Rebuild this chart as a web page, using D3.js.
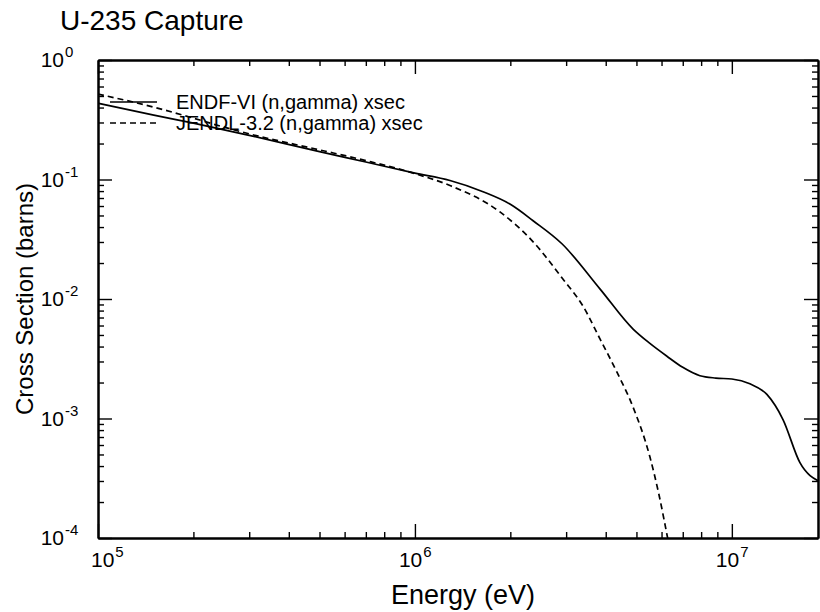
<!DOCTYPE html>
<html>
<head>
<meta charset="utf-8">
<script src="https://cdnjs.cloudflare.com/ajax/libs/d3/7.8.5/d3.min.js"></script>
<style>
  body { margin: 0; background: #fff; }
  text { font-family: "Liberation Sans", Arial, Helvetica, sans-serif; fill: #000; }
  .axis path, .axis line { stroke: #000; }
  .axis path { stroke-width: 2; }
  .axis line { stroke-width: 1.4; }
</style>
</head>
<body>
<script>
// ENDF-VI (n,gamma)
var endfEnergy = [1e5, 1.5e5, 2e5, 3e5, 5e5, 7e5, 1e6, 1.29e6, 1.64e6, 2.0e6, 2.36e6, 2.91e6,
                  3.84e6, 4.88e6, 5.5e6, 6.24e6, 7.0e6, 7.93e6, 8.9e6, 1.0e7, 1.14e7, 1.29e7, 1.45e7, 1.64e7, 1.9e7];
var endfXsec   = [0.435, 0.346, 0.296, 0.234, 0.171, 0.140, 0.113, 0.098, 0.079, 0.062, 0.0452, 0.029,
                  0.0121, 0.0056, 0.00427, 0.00332, 0.00268, 0.00228, 0.00218, 0.00214, 0.00195, 0.00159, 0.00098, 0.000427, 0.000295];

// JENDL-3.2 (n,gamma)
var jendlEnergy = [1e5, 1.5e5, 2e5, 2.5e5, 3e5, 5e5, 7e5, 1e6, 1.29e6, 1.85e6, 2.36e6, 2.93e6, 3.39e6,
                   3.84e6, 4.34e6, 4.87e6, 5.51e6, 5.89e6, 6.29e6, 6.86e6];
var jendlXsec   = [0.518, 0.403, 0.326, 0.274, 0.241, 0.177, 0.144, 0.112, 0.089, 0.0538, 0.0301, 0.0147, 0.00873,
                   0.00461, 0.00244, 0.00126, 0.00048, 0.00023, 0.0000962, 0.00003];

var seriesNames = ["ENDF-VI (n,gamma) xsec", "JENDL-3.2 (n,gamma) xsec"];
var xMajor = [5, 6, 7];
var yMajor = [0, -1, -2, -3, -4];

var plotLeft = 98, plotRight = 818, plotTop = 60, plotBottom = 538;

var svg = d3.select("body").append("svg")
    .attr("width", 820)
    .attr("height", 612);

var x = d3.scaleLog().domain([1e5, 1.87e7]).range([plotLeft, plotRight]);
var y = d3.scaleLog().domain([1e-4, 1]).range([plotBottom, plotTop]);

var xTicks = x.ticks(), yTicks = y.ticks();
function isMajor(v) { return Math.abs(Math.log10(v) - Math.round(Math.log10(v))) < 1e-9; }
var xMin = xTicks.filter(function(d){ return !isMajor(d); }),
    xMaj = xTicks.filter(isMajor),
    yMin = yTicks.filter(function(d){ return !isMajor(d); }),
    yMaj = yTicks.filter(isMajor);

//tick marks, all pointing inwards
function drawAxis(axisFn, scale, vals, len, transform) {
    svg.append("g")
        .attr("class", "axis")
        .attr("transform", transform)
        .call(axisFn(scale).tickValues(vals).tickSizeInner(-len).tickSizeOuter(0).tickFormat(""));
}
drawAxis(d3.axisBottom, x, xMin, 6, "translate(0," + plotBottom + ")");
drawAxis(d3.axisBottom, x, xMaj, 14, "translate(0," + plotBottom + ")");
drawAxis(d3.axisTop, x, xMin, 6, "translate(0," + plotTop + ")");
drawAxis(d3.axisTop, x, xMaj, 14, "translate(0," + plotTop + ")");
drawAxis(d3.axisLeft, y, yMin, 6, "translate(" + plotLeft + ",0)");
drawAxis(d3.axisLeft, y, yMaj, 14, "translate(" + plotLeft + ",0)");
drawAxis(d3.axisRight, y, yMin, 6, "translate(" + plotRight + ",0)");
drawAxis(d3.axisRight, y, yMaj, 14, "translate(" + plotRight + ",0)");

//tick labels with superscripts
var xl = svg.append("g").selectAll("text")
    .data(xMajor)
    .enter().append("text")
    .attr("x", function(d){ return Math.max(x(Math.pow(10, d)) - 16, plotLeft - 7); })
    .attr("y", plotBottom + 29)
    .style("font-size", "21px");
xl.append("tspan").text("10");
xl.append("tspan").attr("dx", 1).attr("dy", -10).style("font-size", "15px").text(function(d){ return d; });

var yl = svg.append("g").selectAll("text")
    .data(yMajor)
    .enter().append("text")
    .attr("x", 64)
    .attr("y", function(d){ return y(Math.pow(10, d)) + 7; })
    .attr("text-anchor", "end")
    .style("font-size", "21px");
yl.append("tspan").text("10");
yl.append("tspan").attr("x", 65).attr("dy", -10).attr("text-anchor", "start")
    .style("font-size", "15px").text(function(d){ return d; });

//curves
svg.append("defs").append("clipPath").attr("id", "plot")
    .append("rect").attr("x", plotLeft).attr("y", plotTop)
    .attr("width", plotRight - plotLeft).attr("height", plotBottom - plotTop);

var line = d3.line()
    .x(function(d){ return x(d[0]); })
    .y(function(d){ return y(d[1]); })
    .curve(d3.curveMonotoneX);

var endf = d3.zip(endfEnergy, endfXsec), jendl = d3.zip(jendlEnergy, jendlXsec);

var curves = svg.append("g").attr("clip-path", "url(#plot)");
curves.append("path").datum(endf).attr("d", line)
    .attr("fill", "none").attr("stroke", "#000").attr("stroke-width", 1.7);
curves.append("path").datum(jendl).attr("d", line)
    .attr("fill", "none").attr("stroke", "#000").attr("stroke-width", 1.7)
    .attr("stroke-dasharray", "6,4");

//legend
var legend = svg.append("g").selectAll("g")
    .data(seriesNames)
    .enter().append("g")
    .attr("transform", function(d, i){ return "translate(110," + (102 + i * 21) + ")"; });
legend.append("line")
    .attr("x1", 0).attr("x2", 47)
    .attr("stroke", "#000").attr("stroke-width", 1.5)
    .attr("stroke-dasharray", function(d, i){ return i ? "6,4" : null; });
legend.append("text")
    .attr("x", 66).attr("y", 7)
    .style("font-size", "20px")
    .text(function(d){ return d; });

//titles
svg.append("text").attr("x", 60).attr("y", 30).style("font-size", "28px").text("U-235 Capture");
svg.append("text").attr("x", (plotLeft + plotRight) / 2 + 5).attr("y", 604).attr("text-anchor", "middle")
    .style("font-size", "27px").text("Energy (eV)");
svg.append("text").attr("transform", "translate(33," + ((plotTop + plotBottom) / 2) + ") rotate(-90)")
    .attr("text-anchor", "middle").style("font-size", "24px").text("Cross Section (barns)");
</script>
</body>
</html>
